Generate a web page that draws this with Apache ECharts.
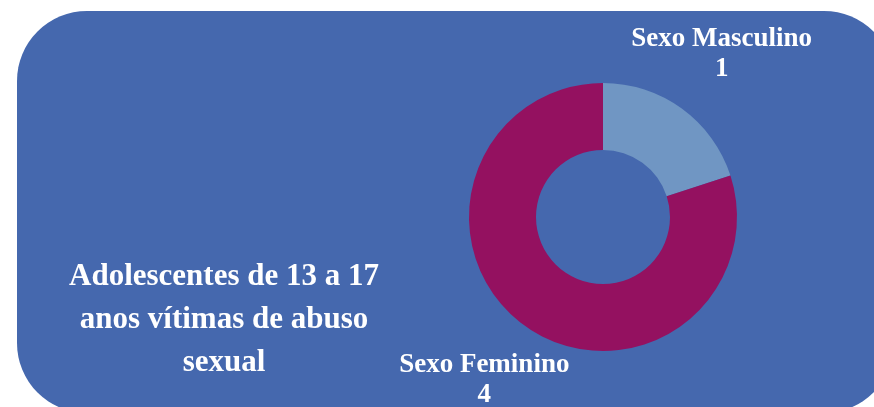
<!DOCTYPE html>
<html>
<head>
<meta charset="utf-8">
<title>Adolescentes vítimas de abuso sexual</title>
<style>
  html, body { margin: 0; padding: 0; background: #fff; }
  #main { width: 874px; height: 407px; }
</style>
</head>
<body>
<div id="main"></div>
<script src="https://cdn.jsdelivr.net/npm/echarts@6/dist/echarts.min.js"></script>
<script>
var categories = ['Sexo Masculino', 'Sexo Feminino'];
var values = [1, 4];
var sliceColors = ['#7096c3', '#941160'];
var titleText = 'Adolescentes de 13 a 17\nanos vítimas de abuso\nsexual';

var serif = '"Liberation Serif", "Times New Roman", serif';

var chart = echarts.init(document.getElementById('main'));

var pieData = categories.map(function (name, i) {
    return { name: name, value: values[i], itemStyle: { color: sliceColors[i] } };
});

chart.setOption({
    backgroundColor: '#fff',
    animation: false,
    graphic: [{
        type: 'rect',
        z: -10,
        shape: { x: 17, y: 11, width: 877, height: 402, r: 70 },
        style: { fill: '#4568ae' }
    }],
    title: {
        text: titleText,
        left: 219,
        top: 250,
        textAlign: 'center',
        textStyle: {
            color: '#fff',
            fontFamily: serif,
            fontWeight: 'bold',
            fontSize: 31,
            lineHeight: 43
        }
    },
    series: [{
        type: 'pie',
        center: [603, 217],
        radius: [67, 134],
        startAngle: 90,
        clockwise: true,
        avoidLabelOverlap: false,
        silent: true,
        data: pieData,
        label: {
            show: true,
            position: 'outside',
            formatter: '{b}\n{c}',
            color: '#fff',
            fontFamily: serif,
            fontWeight: 'bold',
            fontSize: 27,
            lineHeight: 30
        },
        labelLine: { show: false, length: 68, length2: 0 },
        labelLayout: function (params) {
            var pts = params.labelLinePoints;
            if (!pts) return {};
            return {
                x: pts[2][0],
                y: pts[2][1],
                align: 'center',
                verticalAlign: 'middle'
            };
        }
    }]
});
</script>
</body>
</html>
